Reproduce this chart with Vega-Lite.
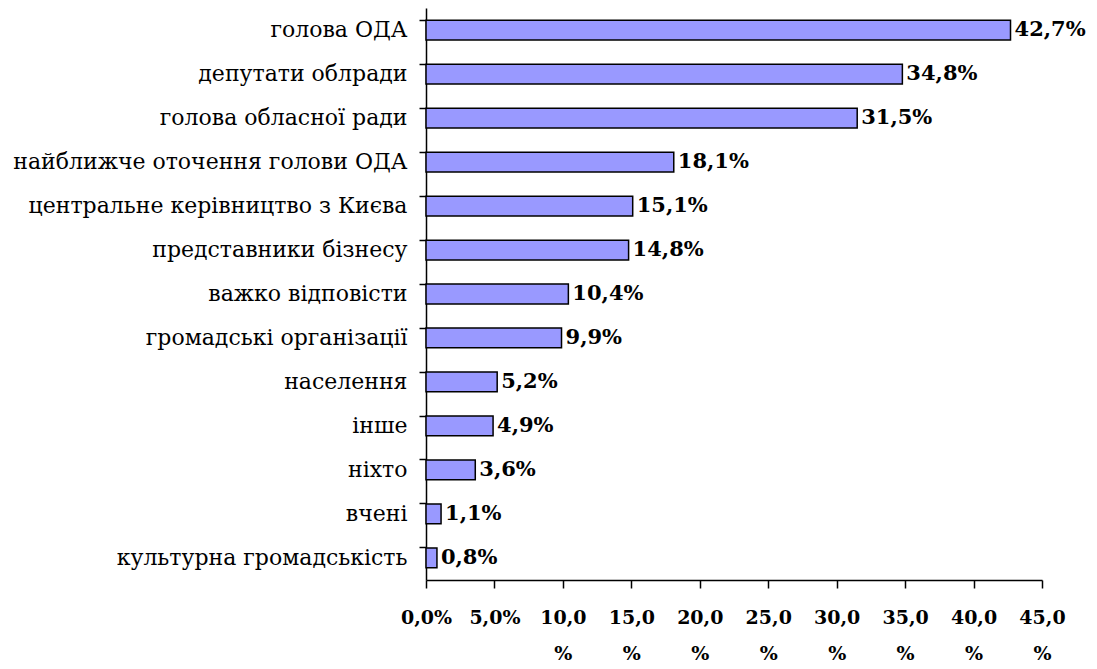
{
  "$schema": "https://vega.github.io/schema/vega-lite/v6.json",
  "width": 616,
  "height": 572,
  "autosize": {"type": "none"},
  "padding": {"left": 426, "top": 8, "right": 55, "bottom": 89},
  "background": "white",
  "config": {"view": {"stroke": null}, "font": "DejaVu Serif"},
  "data": {
    "values": [
      {"cat": "голова ОДА", "v": 42.7},
      {"cat": "депутати облради", "v": 34.8},
      {"cat": "голова обласної ради", "v": 31.5},
      {"cat": "найближче оточення голови ОДА", "v": 18.1},
      {"cat": "центральне керівництво з Києва", "v": 15.1},
      {"cat": "представники бізнесу", "v": 14.8},
      {"cat": "важко відповісти", "v": 10.4},
      {"cat": "громадські організації", "v": 9.9},
      {"cat": "населення", "v": 5.2},
      {"cat": "інше", "v": 4.9},
      {"cat": "ніхто", "v": 3.6},
      {"cat": "вчені", "v": 1.1},
      {"cat": "культурна громадськість", "v": 0.8}
    ]
  },
  "encoding": {
    "y": {
      "field": "cat",
      "type": "nominal",
      "sort": null,
      "scale": {"paddingInner": 0.55, "paddingOuter": 0.28},
      "axis": {
        "title": null,
        "bandPosition": 0,
        "domainColor": "#000",
        "domainWidth": 1.5,
        "tickColor": "#000",
        "tickWidth": 1.5,
        "tickSize": 7,
        "labelFont": "DejaVu Serif",
        "labelFontSize": 22,
        "labelColor": "#000",
        "labelPadding": 12,
        "labelLimit": 0
      }
    },
    "x": {
      "field": "v",
      "type": "quantitative",
      "scale": {"domain": [0, 45], "nice": false},
      "axis": {
        "title": null,
        "values": [0, 5, 10, 15, 20, 25, 30, 35, 40, 45],
        "grid": false,
        "domainColor": "#000",
        "domainWidth": 1.5,
        "tickColor": "#000",
        "tickWidth": 1.5,
        "tickSize": 8,
        "labelFont": "DejaVu Serif",
        "labelFontSize": 19,
        "labelFontWeight": "bold",
        "labelColor": "#000",
        "labelPadding": 20,
        "labelLineHeight": 36,
        "labelBaseline": "top",
        "labelOverlap": false,
        "labelFlush": false,
        "labelExpr": "datum.value < 10 ? replace(format(datum.value, '.1f'), '.', ',') + '%' : [replace(format(datum.value, '.1f'), '.', ','), '%']"
      }
    }
  },
  "layer": [
    {
      "mark": {"type": "bar", "fill": "#9999FF", "stroke": "#000", "strokeWidth": 1.5}
    },
    {
      "mark": {"type": "text", "align": "left", "baseline": "middle", "dx": 4, "font": "DejaVu Serif", "fontSize": 21, "fontWeight": "bold", "color": "#000",
        "text": {"expr": "replace(format(datum.v, '.1f'), '.', ',') + '%'"}}
    }
  ]
}
